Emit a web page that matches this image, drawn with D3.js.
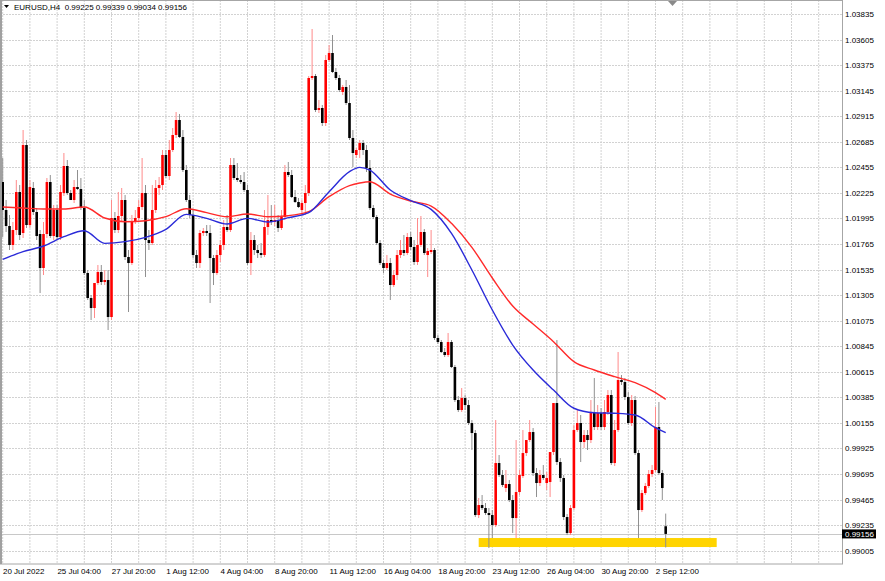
<!DOCTYPE html>
<html><head><meta charset="utf-8">
<script src="https://cdn.jsdelivr.net/npm/d3@7"></script>
<style>html,body{margin:0;padding:0;background:#fff;}svg{display:block;}</style>
</head><body>
<svg id="c" width="885" height="581"></svg>
<script>
const symbolTitle = "EURUSD,H4";
const lastQuote = ["0.99225", "0.99339", "0.99034", "0.99156"];
const bidPrice = 0.99156;

const opens = [1.02323,1.02071,1.01927,1.01756,1.01891,1.02233,1.01864,1.02656,1.01936,1.02269,
1.02053,1.01855,1.01549,1.01855,1.02323,1.01837,1.02071,1.01828,1.02224,1.02467,
1.02224,1.02161,1.02278,1.02260,1.02089,1.01504,1.01279,1.01189,1.01414,1.01513,
1.01423,1.01441,1.01108,1.01999,1.01891,1.02017,1.02161,1.01648,1.01594,1.01963,
1.01999,1.02098,1.02224,1.01801,1.01774,1.02071,1.02269,1.02296,1.02566,1.02377,
1.02611,1.02746,1.02881,1.02728,1.02431,1.02161,1.02026,1.01666,1.01594,1.01864,
1.01882,1.01864,1.01639,1.01504,1.01666,1.01756,1.01918,1.01891,1.02476,1.02359,
1.02341,1.02323,1.02251,1.01594,1.01801,1.01711,1.01684,1.01666,1.01918,1.01981,
1.01963,1.01981,1.01909,1.02008,1.02413,1.02386,1.02188,1.02143,1.02071,1.02134,
1.02224,1.03259,1.03277,1.02971,1.02989,1.02854,1.03421,1.03484,1.03313,1.03259,
1.03133,1.03178,1.03034,1.02719,1.02566,1.02611,1.02674,1.02611,1.02449,1.02089,
1.02008,1.01774,1.01594,1.01549,1.01594,1.01396,1.01486,1.01666,1.01711,1.01684,
1.01828,1.01738,1.01603,1.01756,1.01873,1.01666,1.01693,1.01711,1.00919,1.00883,
1.00793,1.00766,1.00883,1.00658,1.00361,1.00271,1.00379,1.00316,1.00154,1.00064,
0.99326,0.99416,0.99389,0.99344,0.99326,0.99236,0.99794,0.99686,0.99569,0.99605,
0.99461,0.99299,0.99533,0.99677,0.99884,1.00001,1.00073,0.99704,0.99614,0.99686,
0.99614,0.99623,0.99893,1.00334,0.99803,0.99659,0.99308,0.99164,0.99389,1.00091,
1.00154,0.99983,1.00046,1.00001,1.00244,1.00118,1.00244,1.00118,1.00253,1.00406,
0.99794,1.00091,1.00541,1.00523,1.00388,1.00154,1.00361,0.99884,0.99371,0.99524,
0.99587,0.99695,0.99731,1.00118,0.99704,0.99225];

const highs = [1.02539,1.02161,1.02026,1.01963,1.02341,1.02296,1.02791,1.02701,1.02341,1.02323,
1.02089,1.01891,1.01963,1.02359,1.02386,1.02116,1.02116,1.02296,1.02584,1.02521,
1.02251,1.02341,1.02431,1.02359,1.02161,1.01531,1.01306,1.01351,1.01576,1.01576,
1.01531,1.01531,1.02161,1.02053,1.02233,1.02269,1.02206,1.01711,1.02026,1.02071,
1.02161,1.02539,1.02296,1.01891,1.02296,1.02341,1.02368,1.02611,1.02611,1.02701,
1.02809,1.02953,1.02935,1.02791,1.02476,1.02206,1.02071,1.01711,1.01891,1.01909,
1.01936,1.01936,1.01666,1.01711,1.01801,1.01981,1.02026,1.02539,1.02539,1.02494,
1.02386,1.02413,1.02296,1.01873,1.01846,1.01756,1.01774,1.02071,1.02206,1.02116,
1.02116,1.02026,1.02071,1.02476,1.02503,1.02431,1.02251,1.02179,1.02161,1.02296,
1.03277,1.03700,1.03295,1.03061,1.03016,1.03466,1.03556,1.03646,1.03349,1.03286,
1.03196,1.03241,1.03196,1.02791,1.02629,1.02701,1.02701,1.02656,1.02521,1.02116,
1.02026,1.01801,1.01621,1.01666,1.01639,1.01531,1.01711,1.01801,1.01846,1.01864,
1.01873,1.01801,1.01999,1.02017,1.01900,1.01729,1.01891,1.01729,1.00946,1.00901,
1.00829,1.00964,1.00901,1.00676,1.00397,1.00469,1.00406,1.00361,1.00181,1.00091,
0.99479,0.99506,0.99434,0.99389,0.99371,1.00181,0.99866,0.99731,0.99731,0.99641,
0.99506,1.00001,0.99731,1.00091,1.00001,1.00181,1.00109,0.99749,0.99731,0.99776,
0.99713,0.99686,1.00181,1.00901,0.99839,0.99686,0.99335,0.99416,1.00136,1.00271,
1.00226,1.00091,1.00091,1.00361,1.00559,1.00316,1.00289,1.00361,1.00451,1.00451,
1.00181,1.00793,1.00586,1.00559,1.00433,1.00406,1.00397,0.99911,0.99551,0.99614,
0.99731,0.99776,1.00298,1.00343,0.99731,0.99339];

const lows = [1.01828,1.01873,1.01711,1.01711,1.01846,1.01801,1.01819,1.01909,1.01909,1.02026,
1.01801,1.01324,1.01486,1.01819,1.01819,1.01801,1.01801,1.01801,1.02197,1.02206,
1.02161,1.02134,1.02251,1.02071,1.01486,1.01261,1.01081,1.01099,1.01396,1.01396,
1.01396,1.00991,1.01081,1.01864,1.01864,1.01963,1.01621,1.01153,1.01576,1.01945,
1.01981,1.02071,1.01468,1.01711,1.01756,1.02044,1.02206,1.02251,1.02359,1.02341,
1.02593,1.02719,1.02719,1.02413,1.02143,1.01999,1.01639,1.01549,1.01549,1.01837,
1.01837,1.01234,1.01396,1.01486,1.01603,1.01711,1.01873,1.01873,1.02341,1.02323,
1.02305,1.02233,1.01576,1.01486,1.01666,1.01639,1.01639,1.01648,1.01846,1.01936,
1.01927,1.01873,1.01891,1.01981,1.02368,1.02179,1.02134,1.02089,1.02035,1.02026,
1.02197,1.03241,1.02953,1.02944,1.02827,1.02827,1.03403,1.03304,1.03241,1.03133,
1.03106,1.03016,1.02701,1.02458,1.02539,1.02539,1.02566,1.02413,1.02071,1.01990,
1.01756,1.01576,1.01504,1.01531,1.01261,1.01378,1.01441,1.01639,1.01657,1.01666,
1.01711,1.01576,1.01576,1.01738,1.01666,1.01468,1.01675,1.00901,1.00865,1.00784,
1.00748,1.00748,1.00649,1.00343,1.00253,1.00253,1.00271,1.00136,0.99911,0.99308,
0.99299,0.99371,0.99326,0.99029,0.99119,0.99218,0.99668,0.99578,0.99533,0.99443,
0.99164,0.99119,0.99506,0.99659,0.99857,0.99983,0.99677,0.99488,0.99587,0.99641,
0.99551,0.99488,0.99866,0.99776,0.99623,0.99281,0.99146,0.99146,0.99371,1.00073,
0.99803,0.99929,0.99911,0.99974,1.00091,1.00091,1.00091,1.00091,1.00226,0.99776,
0.99767,1.00073,1.00496,1.00361,1.00136,1.00127,0.99866,0.99119,0.99353,0.99506,
0.99569,0.99668,0.99713,0.99686,0.99461,0.99034];

const closes = [1.02071,1.01927,1.01756,1.01891,1.02233,1.01846,1.02656,1.01936,1.02278,1.02053,
1.01837,1.01549,1.01855,1.02323,1.01837,1.02071,1.01828,1.02233,1.02467,1.02224,
1.02161,1.02278,1.02260,1.02089,1.01504,1.01279,1.01189,1.01414,1.01513,1.01423,
1.01441,1.01108,1.01999,1.01891,1.02017,1.02161,1.01648,1.01594,1.01963,1.01999,
1.02098,1.02224,1.01801,1.01774,1.02071,1.02269,1.02296,1.02566,1.02377,1.02611,
1.02746,1.02881,1.02728,1.02431,1.02161,1.02026,1.01666,1.01594,1.01864,1.01882,
1.01864,1.01639,1.01504,1.01666,1.01756,1.01918,1.01891,1.02476,1.02359,1.02341,
1.02323,1.02251,1.01594,1.01801,1.01711,1.01684,1.01666,1.01918,1.01981,1.01963,
1.01981,1.01909,1.02008,1.02413,1.02386,1.02188,1.02143,1.02098,1.02134,1.02224,
1.03259,1.03277,1.02971,1.02989,1.02854,1.03421,1.03484,1.03313,1.03259,1.03151,
1.03178,1.03034,1.02719,1.02584,1.02611,1.02674,1.02611,1.02449,1.02089,1.02008,
1.01774,1.01594,1.01549,1.01594,1.01396,1.01486,1.01666,1.01711,1.01684,1.01828,
1.01738,1.01603,1.01756,1.01873,1.01684,1.01702,1.01711,1.00919,1.00883,1.00793,
1.00766,1.00883,1.00658,1.00361,1.00271,1.00379,1.00316,1.00154,1.00064,0.99326,
0.99416,0.99389,0.99344,0.99326,0.99236,0.99794,0.99686,0.99596,0.99605,0.99461,
0.99299,0.99533,0.99686,0.99884,1.00001,1.00073,0.99704,0.99614,0.99686,0.99659,
0.99659,0.99893,1.00334,0.99803,0.99659,0.99308,0.99164,0.99389,1.00091,1.00154,
0.99983,1.00046,1.00001,1.00244,1.00118,1.00244,1.00118,1.00253,1.00406,0.99794,
1.00091,1.00541,1.00523,1.00388,1.00154,1.00361,0.99884,0.99371,0.99524,0.99587,
0.99695,0.99731,1.00118,0.99704,0.99569,0.99156];

// moving averages sampled at bar indices
const maBars = [0,6,12,18,24,30,36,42,48,54,60,66,72,78,84,90,96,102,105,108,114,120,126,132,138,144,150,156,162,168,174,180,186,192,195];
const maRed = [1.02098,1.02089,1.02080,1.02080,1.02098,1.01999,1.01966,1.01975,1.02011,1.02083,1.02047,1.02011,1.02035,1.02011,1.02020,1.02056,1.02191,1.02290,1.02314,1.02326,1.02215,1.02152,1.02107,1.01951,1.01735,1.01459,1.01207,1.01045,1.00886,1.00706,1.00631,1.00571,1.00517,1.00427,1.00367];
const maBlue = [1.01627,1.01696,1.01747,1.01831,1.01885,1.01771,1.01786,1.01825,1.01897,1.02032,1.01996,1.01945,1.01996,1.01963,1.02002,1.02047,1.02236,1.02416,1.02455,1.02431,1.02251,1.02155,1.02077,1.01861,1.01531,1.01171,1.00856,1.00631,1.00451,1.00287,1.00247,1.00242,1.00226,1.00112,1.00067];

const priceTicks = [1.03835,1.03605,1.03375,1.03145,1.02915,1.02685,1.02455,1.02225,1.01995,1.01765,1.01535,1.01305,1.01075,1.00845,1.00615,1.00385,1.00155,0.99925,0.99695,0.99465,0.99235,0.99005];
const timeLabelBars = [0,16,32,48,64,80,96,112,128,144,160,176,192];
const timeLabels = ["20 Jul 2022","25 Jul 04:00","27 Jul 20:00","1 Aug 12:00","4 Aug 04:00","8 Aug 20:00","11 Aug 12:00","16 Aug 04:00","18 Aug 20:00","23 Aug 12:00","26 Aug 04:00","30 Aug 20:00","2 Sep 12:00"];

// highlighted support zone (bar range & price range)
const zoneBars = [140, 210];
const zonePrices = [0.99038, 0.99119];

const svg = d3.select("#c");
const font = "'Liberation Sans', Arial, sans-serif";
const R = 842, B = 564;

const x = d3.scaleLinear().domain([0, 195]).range([2.7, 665.7]);
const y = d3.scaleLinear().domain([0.99005, 1.03835]).range([550.7, 14]);

svg.append("rect").attr("width", 885).attr("height", 581).attr("fill", "#fff");
svg.append("clipPath").attr("id", "clip").append("rect").attr("x", 1).attr("y", 1).attr("width", R - 1).attr("height", B - 1);

const plot = svg.append("g").attr("clip-path", "url(#clip)");

// grid
const vg = d3.range(0, 241, 8);
plot.selectAll("line.vg").data(vg).join("line")
  .attr("x1", d => x(d)).attr("x2", d => x(d)).attr("y1", 0).attr("y2", B)
  .attr("stroke", "#d2d2d2").attr("stroke-width", 1).attr("stroke-dasharray", "2,1");
plot.selectAll("line.hg").data(priceTicks).join("line")
  .attr("x1", 0).attr("x2", R).attr("y1", d => Math.round(y(d)) + 0.5).attr("y2", d => Math.round(y(d)) + 0.5)
  .attr("stroke", "#d2d2d2").attr("stroke-width", 1).attr("stroke-dasharray", "2,1");

// bid line
plot.append("line").attr("x1", 0).attr("x2", R)
  .attr("y1", Math.round(y(bidPrice)) + 0.5).attr("y2", Math.round(y(bidPrice)) + 0.5)
  .attr("stroke", "#c8c8c8").attr("stroke-width", 1);

// support zone
plot.append("rect")
  .attr("x", x(zoneBars[0])).attr("width", x(zoneBars[1]) - x(zoneBars[0]))
  .attr("y", y(zonePrices[1])).attr("height", y(zonePrices[0]) - y(zonePrices[1]))
  .attr("fill", "#ffd400");

// candles
const bars = opens.map((o, i) => ({ i, o, h: highs[i], l: lows[i], c: closes[i] }));
plot.selectAll("line.wick").data(bars).join("line")
  .attr("x1", d => x(d.i)).attr("x2", d => x(d.i))
  .attr("y1", d => y(d.h)).attr("y2", d => y(d.l))
  .attr("stroke", d => d.c >= d.o ? "#ff8a8a" : "#909090").attr("stroke-width", 1);
plot.selectAll("rect.body").data(bars).join("rect")
  .attr("x", d => x(d.i) - 1.3).attr("width", 2.6)
  .attr("y", d => y(Math.max(d.o, d.c)))
  .attr("height", d => Math.max(1, Math.abs(y(d.o) - y(d.c))))
  .attr("fill", d => d.c >= d.o ? "#ff0000" : "#000000");

// moving averages
const maLine = vals => d3.line().x((d, k) => x(maBars[k])).y(d => y(d)).curve(d3.curveMonotoneX)(vals);
plot.append("path").attr("d", maLine(maRed)).attr("fill", "none").attr("stroke", "#ff2a2a").attr("stroke-width", 1.4);
plot.append("path").attr("d", maLine(maBlue)).attr("fill", "none").attr("stroke", "#2a2ad8").attr("stroke-width", 1.4);

// frame
svg.append("rect").attr("x", 0.5).attr("y", 0.5).attr("width", R).attr("height", B - 0.5)
  .attr("fill", "none").attr("stroke", "#a6a6a6").attr("stroke-width", 1);
svg.append("line").attr("x1", 1).attr("x2", 1).attr("y1", 0).attr("y2", B)
  .attr("stroke", "#a0a0a0").attr("stroke-width", 2);

// shift marker
svg.append("path").attr("d", d3.line()([[668, 1], [677, 1], [672.5, 6]]) + "Z").attr("fill", "#8a8a8a");

// price labels
svg.selectAll("text.pl").data(priceTicks).join("text")
  .attr("x", 845).attr("y", d => y(d) + 3)
  .attr("font-family", font).attr("font-size", 8).attr("fill", "#000")
  .text(d => d.toFixed(5));

// bid label
svg.append("rect").attr("x", 842).attr("y", y(bidPrice) - 4.5).attr("width", 34).attr("height", 9).attr("fill", "#000");
svg.append("text").attr("x", 845).attr("y", y(bidPrice) + 3)
  .attr("font-family", font).attr("font-size", 8).attr("fill", "#fff").text(bidPrice.toFixed(5));

// time labels
svg.selectAll("text.tl").data(timeLabelBars).join("text")
  .attr("x", d => x(d) + 0.3).attr("y", 574)
  .attr("font-family", font).attr("font-size", 8).attr("fill", "#000")
  .text((d, k) => timeLabels[k]);

// title
svg.append("path").attr("d", d3.line()([[4, 5], [9, 5], [6.5, 8]]) + "Z").attr("fill", "#000");
svg.append("text").attr("x", 14).attr("y", 10).attr("font-family", font).attr("font-size", 8).attr("fill", "#000")
  .attr("xml:space", "preserve")
  .text(symbolTitle + "  " + lastQuote.join(" "));
</script>
</body></html>
